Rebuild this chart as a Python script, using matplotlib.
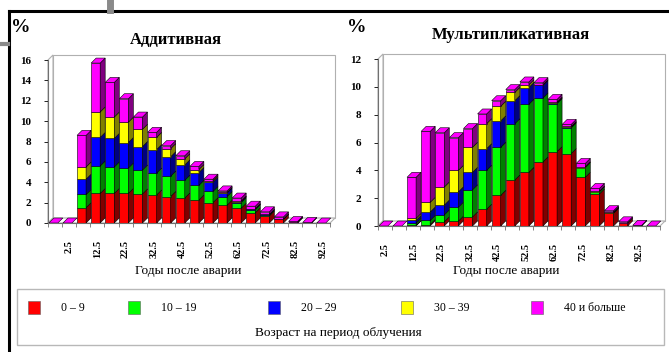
import matplotlib
matplotlib.use("Agg")
import matplotlib.pyplot as plt
from matplotlib.patches import Rectangle, Polygon
from matplotlib.lines import Line2D
import numpy as np

plt.rcParams["font.family"] = ["Liberation Serif", "DejaVu Serif"]

# Figure size in pixels
W, H = 669, 352
DEPTH_PX = 5  # 3D depth of bars / walls

# Age at exposure (legend)
AGE_GROUPS = ["0 – 9", "10 – 19", "20 – 29", "30 – 39", "40 и больше"]
FRONT_COLORS = ["#ff0000", "#00ff00", "#0000ff", "#ffff00", "#ff00ff"]
SIDE_COLORS = ["#800000", "#008000", "#000080", "#808000", "#800080"]

# Years after the accident (category axis)
ADD_YEARS = [0, 2.5, 7.5, 12.5, 17.5, 22.5, 27.5, 32.5, 37.5, 42.5,
             47.5, 52.5, 57.5, 62.5, 67.5, 72.5, 77.5, 82.5, 87.5, 92.5]
MULT_YEARS = [2.5, 7.5, 12.5, 17.5, 22.5, 27.5, 32.5, 37.5, 42.5, 47.5,
              52.5, 57.5, 62.5, 67.5, 72.5, 77.5, 82.5, 87.5, 92.5, 97.5]

# Additive model, % per age group
add_0_9 = [0, 0, 1.5, 2.9, 2.9, 2.9, 2.85, 2.75, 2.6, 2.45, 2.25, 2.0, 1.75, 1.45, 1.0, 0.7, 0.35, 0.05, 0, 0]
add_10_19 = [0, 0, 1.3, 2.7, 2.6, 2.5, 2.35, 2.15, 2.0, 1.75, 1.45, 1.1, 0.85, 0.55, 0.3, 0.1, 0.05, 0, 0, 0]
add_20_29 = [0, 0, 1.5, 2.8, 2.8, 2.5, 2.3, 2.3, 1.9, 1.5, 1.25, 0.9, 0.35, 0.1, 0.05, 0.05, 0, 0, 0, 0]
add_30_39 = [0, 0, 1.2, 2.5, 2.1, 2.0, 1.7, 1.2, 0.8, 0.6, 0.3, 0.15, 0.05, 0.05, 0.05, 0, 0, 0, 0, 0]
add_40_plus = [0, 0, 3.1, 4.8, 3.4, 2.3, 1.2, 0.5, 0.3, 0.3, 0.3, 0.15, 0.15, 0.3, 0.25, 0.25, 0.2, 0.1, 0.05, 0]

# Multiplicative model, % per age group
mult_0_9 = [0, 0, 0.05, 0.1, 0.3, 0.35, 0.65, 1.2, 2.2, 3.3, 3.85, 4.6, 5.35, 5.2, 3.5, 2.3, 0.9, 0.2, 0, 0]
mult_10_19 = [0, 0, 0.15, 0.3, 0.5, 1.0, 1.95, 2.8, 3.45, 4.05, 4.9, 4.6, 3.45, 1.85, 0.7, 0.15, 0.05, 0, 0, 0]
mult_20_29 = [0, 0, 0.2, 0.6, 0.7, 1.1, 1.25, 1.55, 1.9, 1.65, 1.2, 0.9, 0.05, 0.05, 0, 0, 0, 0, 0, 0]
mult_30_39 = [0, 0, 0.15, 0.7, 1.3, 1.55, 1.8, 1.8, 1.05, 0.6, 0.2, 0.05, 0.05, 0.05, 0.05, 0.05, 0.05, 0, 0, 0]
mult_40_plus = [0, 0, 2.95, 5.1, 3.9, 2.35, 1.35, 0.7, 0.4, 0.2, 0.2, 0.15, 0.2, 0.15, 0.25, 0.2, 0.1, 0.1, 0.05, 0]


def px_box(x0, y_top, x1, y_bot):
    """Axes rectangle in figure fractions from pixel coordinates."""
    return [x0 / W, 1 - y_bot / H, (x1 - x0) / W, (y_bot - y_top) / H]


def draw_panel(ax, years, series, ymax):
    n = len(years)
    ax.set_xlim(0, n)
    ax.set_ylim(0, ymax)
    ax.patch.set_visible(False)

    pos = ax.get_position()
    ddx = DEPTH_PX * n / (pos.width * W)
    ddy = DEPTH_PX * ymax / (pos.height * H)

    # walls and floor
    wall = dict(facecolor="white", edgecolor="#b0b0b0", linewidth=0.8, clip_on=False, zorder=0)
    ax.add_patch(Polygon([(ddx, ddy), (n + ddx, ddy), (n + ddx, ymax + ddy), (ddx, ymax + ddy)], **wall))
    ax.add_patch(Polygon([(0, 0), (ddx, ddy), (ddx, ymax + ddy), (0, ymax)], **wall))
    ax.add_patch(Polygon([(0, 0), (n, 0), (n + ddx, ddy), (ddx, ddy)], **wall))

    data = np.array(series, dtype=float)
    bottoms = np.vstack([np.zeros(n), np.cumsum(data, axis=0)[:-1]])
    totals = data.sum(axis=0)
    edge = dict(edgecolor="black", linewidth=0.4, clip_on=False, zorder=2)
    w = 0.64
    for i in range(n):
        x0 = i + 0.06
        top_k = len(series) - 1
        for k in range(len(series)):
            h = data[k, i]
            if h <= 0:
                continue
            top_k = k
            b = bottoms[k, i]
            ax.add_patch(Rectangle((x0, b), w, h, facecolor=FRONT_COLORS[k], **edge))
            ax.add_patch(Polygon([(x0 + w, b), (x0 + w + ddx, b + ddy),
                                  (x0 + w + ddx, b + h + ddy), (x0 + w, b + h)],
                                 facecolor=SIDE_COLORS[k], **edge))
        t = totals[i]
        ax.add_patch(Polygon([(x0, t), (x0 + ddx, t + ddy), (x0 + w + ddx, t + ddy), (x0 + w, t)],
                             facecolor=FRONT_COLORS[top_k], **edge))

    # axes / ticks
    for s in ["top", "right"]:
        ax.spines[s].set_visible(False)
    for s in ["left", "bottom"]:
        ax.spines[s].set_color("#707070")
        ax.spines[s].set_linewidth(0.8)
    ax.set_yticks(range(0, ymax + 1, 2))
    ax.tick_params(axis="y", length=3, width=0.6, pad=9, labelsize=8)
    for lab in ax.get_yticklabels():
        lab.set_fontweight("bold")

    shown = [i for i, y in enumerate(years) if y > 0 and (y - 2.5) % 10 == 0]
    ax.set_xticks([i + 0.5 for i in shown])
    ax.set_xticklabels([str(years[i]) for i in shown], rotation=90, fontsize=7.5, fontweight="bold")
    ax.tick_params(axis="x", which="major", length=0, pad=12)
    ax.set_xticks(range(n + 1), minor=True)
    ax.tick_params(axis="x", which="minor", length=3, width=0.6, color="#707070")


fig = plt.figure(figsize=(W / 100, H / 100), dpi=100)

# background decoration: frame and legend box, in pixel coordinates
bg = fig.add_axes([0, 0, 1, 1])
bg.set_xlim(0, W)
bg.set_ylim(H, 0)
bg.axis("off")
bg.add_line(Line2D([9, W], [11, 11], color="black", linewidth=2.2))
bg.add_line(Line2D([9, 9], [11, H], color="black", linewidth=2.2))
bg.add_line(Line2D([110, 110], [0, 10], color="#8a8a8a", linewidth=5))
bg.add_line(Line2D([0, 8], [44, 44], color="#8a8a8a", linewidth=3))
bg.add_patch(Rectangle((17, 289), 647, 56, facecolor="white", edgecolor="#b8b8b8", linewidth=1.0))

# legend row (layout positions of the legend swatches)
legend_x = [28, 128, 268, 401, 531]
for lx, label, color in zip(legend_x, AGE_GROUPS, FRONT_COLORS):
    bg.add_patch(Rectangle((lx, 301), 12, 13, facecolor=color, edgecolor="#606060", linewidth=0.4))
    bg.text(lx + 33, 308, label, ha="left", va="center", fontsize=8.5)
bg.text(338, 333, "Возраст на период облучения", ha="center", va="center", fontsize=9.5)

ax1 = fig.add_axes(px_box(48, 60, 330, 223))
draw_panel(ax1, ADD_YEARS, [add_0_9, add_10_19, add_20_29, add_30_39, add_40_plus], 16)

ax2 = fig.add_axes(px_box(378, 59, 660, 226))
draw_panel(ax2, MULT_YEARS, [mult_0_9, mult_10_19, mult_20_29, mult_30_39, mult_40_plus], 12)

# titles and labels
fig.text(176 / W, 1 - 40 / H, "Аддитивная", ha="center", va="center", fontsize=12, fontweight="bold")
fig.text(511 / W, 1 - 35 / H, "Мультипликативная", ha="center", va="center", fontsize=12, fontweight="bold")
fig.text(21 / W, 1 - 28 / H, "%", ha="center", va="center", fontsize=14, fontweight="bold")
fig.text(357 / W, 1 - 28 / H, "%", ha="center", va="center", fontsize=14, fontweight="bold")
fig.text(188 / W, 1 - 271 / H, "Годы после аварии", ha="center", va="center", fontsize=9.5)
fig.text(506 / W, 1 - 271 / H, "Годы после аварии", ha="center", va="center", fontsize=9.5)

fig.savefig("out.png", dpi=100)
